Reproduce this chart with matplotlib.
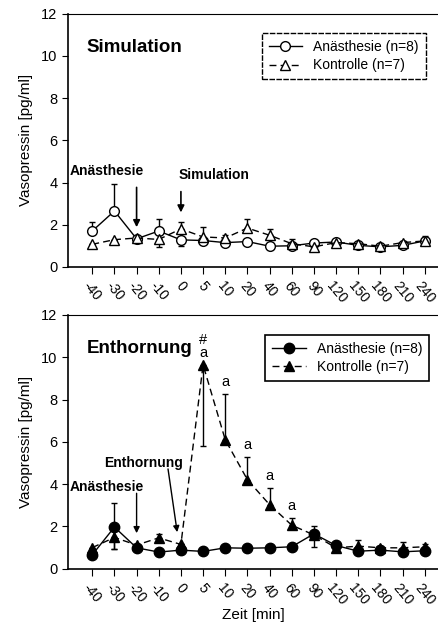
import numpy as np
import matplotlib.pyplot as plt

plt.rcParams['font.family'] = ['Liberation Sans', 'DejaVu Sans']

zeit = ['-40', '-30', '-20', '-10', '0', '5', '10', '20', '40', '60',
        '90', '120', '150', '180', '210', '240']

# Simulation
sim_an = [1.70, 2.65, 1.33, 1.70, 1.28, 1.25, 1.15, 1.20, 0.98, 1.00,
          1.13, 1.18, 1.02, 0.95, 1.02, 1.23]
sim_an_lo = [0, 0, 0.18, 0, 0.28, 0.10, 0.10, 0, 0, 0.08, 0.10, 0, 0.05, 0, 0, 0]
sim_an_hi = [0.42, 1.28, 0.15, 0.58, 0, 0.10, 0, 0, 0, 0, 0, 0.08, 0, 0, 0, 0]
sim_ko = [1.07, 1.29, 1.37, 1.30, 1.80, 1.42, 1.37, 1.84, 1.50, 1.10,
          0.95, 1.15, 1.10, 0.98, 1.15, 1.23]
sim_ko_lo = [0, 0, 0, 0.35, 0, 0, 0, 0, 0, 0, 0.05, 0, 0, 0, 0, 0]
sim_ko_hi = [0, 0, 0, 0, 0.35, 0.48, 0.13, 0.44, 0.28, 0.24, 0, 0.12, 0.08, 0, 0.10, 0.25]

# Enthornung
ent_an = [0.66, 1.97, 0.99, 0.79, 0.88, 0.82, 0.99, 0.97, 0.99, 1.04,
          1.65, 1.10, 0.83, 0.88, 0.80, 0.85]
ent_an_lo = [0, 1.05, 0, 0, 0, 0, 0, 0, 0, 0, 0.62, 0, 0, 0, 0, 0]
ent_an_hi = [0, 1.13, 0, 0, 0, 0, 0, 0, 0, 0, 0.38, 0, 0, 0, 0, 0]
ent_ko = [1.00, 1.48, 1.12, 1.46, 1.15, 9.64, 6.10, 4.21, 3.03, 2.06,
          1.60, 0.99, 1.07, 0.99, 0.99, 1.04]
ent_ko_lo = [0, 0.54, 0, 0, 0, 3.85, 0, 0, 0, 0, 0, 0.12, 0, 0, 0, 0]
ent_ko_hi = [0, 0, 0, 0.16, 0, 0, 2.15, 1.06, 0.77, 0.33, 0, 0, 0.28, 0.10, 0.28, 0.12]
sig_marks = {5: '#\na', 6: 'a', 7: 'a', 8: 'a', 9: 'a'}

x = np.arange(len(zeit))

fig = plt.figure(figsize=(4.38, 6.25), dpi=100)
ax1 = fig.add_axes([0.155, 0.573, 0.845, 0.405])
ax2 = fig.add_axes([0.155, 0.09, 0.845, 0.406])


def style(ax):
    ax.set_xlim(-1.1, 15.6)
    ax.set_ylim(0, 12)
    ax.set_yticks(range(0, 13, 2))
    ax.set_xticks(x)
    ax.set_xticklabels(zeit, rotation=-50, ha='center', va='top', fontsize=10)
    ax.tick_params(axis='x', direction='out', length=5, pad=4)
    ax.tick_params(axis='y', direction='out', length=4, labelsize=10.5)
    ax.spines['right'].set_visible(False)
    ax.spines['top'].set_linestyle((0, (6, 1)))
    ax.spines['top'].set_linewidth(0.8)
    ax.spines['left'].set_linewidth(1.2)
    ax.spines['bottom'].set_linewidth(1.2)
    ax.set_ylabel('Vasopressin [pg/ml]', fontsize=11, labelpad=6)


# top panel
a1 = ax1.errorbar(x, sim_an, yerr=[sim_an_lo, sim_an_hi], color='black', lw=1.0,
                  marker='o', ms=7, mfc='white', mec='black', capsize=2.5,
                  elinewidth=1, zorder=3)
k1 = ax1.errorbar(x, sim_ko, yerr=[sim_ko_lo, sim_ko_hi], color='black', lw=1.0,
                  ls=(0, (5, 3)), marker='^', ms=7, mfc='white', mec='black',
                  capsize=2.5, elinewidth=1, zorder=3)
style(ax1)
ax1.text(0.05, 0.85, 'Simulation', transform=ax1.transAxes, fontsize=13.5,
         fontweight='bold')
ax1.text(-1.0, 4.35, 'Anästhesie', fontsize=10, fontweight='bold')
ax1.annotate('', xy=(2, 1.75), xytext=(2, 3.9),
             arrowprops=dict(arrowstyle='-|>', color='black', lw=1.2, mutation_scale=10))
ax1.text(3.9, 4.15, 'Simulation', fontsize=10, fontweight='bold')
ax1.annotate('', xy=(4, 2.45), xytext=(4, 3.7),
             arrowprops=dict(arrowstyle='-|>', color='black', lw=1.2, mutation_scale=10))
leg = ax1.legend([a1[0], k1[0]], ['Anästhesie (n=8)', 'Kontrolle (n=7)'],
                 loc='upper right', bbox_to_anchor=(0.985, 0.95), fontsize=10,
                 fancybox=False, edgecolor='black', framealpha=1,
                 handlelength=2.4, borderpad=0.5, labelspacing=0.3)
leg.get_frame().set_linestyle((0, (4, 1)))

# bottom panel
a2 = ax2.errorbar(x, ent_an, yerr=[ent_an_lo, ent_an_hi], color='black', lw=1.0,
                  marker='o', ms=7.5, mfc='black', mec='black', capsize=2.5,
                  elinewidth=1, zorder=3)
k2 = ax2.errorbar(x, ent_ko, yerr=[ent_ko_lo, ent_ko_hi], color='black', lw=1.0,
                  ls=(0, (5, 3)), marker='^', ms=7.5, mfc='black', mec='black',
                  capsize=2.5, elinewidth=1, zorder=3)
style(ax2)
for i, s in sig_marks.items():
    top = ent_ko[i] + ent_ko_hi[i]
    ax2.text(i, top + 0.25, s, ha='center', va='bottom', fontsize=10.5,
             linespacing=0.9)
ax2.text(0.05, 0.85, 'Enthornung', transform=ax2.transAxes, fontsize=13.5,
         fontweight='bold')
ax2.text(-1.0, 3.85, 'Anästhesie', fontsize=10, fontweight='bold', va='center')
ax2.annotate('', xy=(2, 1.55), xytext=(2, 3.7),
             arrowprops=dict(arrowstyle='-|>', color='black', lw=1.0, mutation_scale=9))
ax2.text(0.55, 5.0, 'Enthornung', fontsize=10, fontweight='bold', va='center')
ax2.annotate('', xy=(3.85, 1.6), xytext=(3.4, 4.85),
             arrowprops=dict(arrowstyle='-|>', color='black', lw=1.0, mutation_scale=9))
ax2.set_xlabel('Zeit [min]', fontsize=11, labelpad=0)
leg = ax2.legend([a2[0], k2[0]], ['Anästhesie (n=8)', 'Kontrolle (n=7)'],
                 loc='upper right', bbox_to_anchor=(0.995, 0.95), fontsize=10,
                 fancybox=False, edgecolor='black', framealpha=1,
                 handlelength=2.4, borderpad=0.5, labelspacing=0.3)
leg.get_frame().set_linewidth(1.2)

fig.savefig('out.png', dpi=100)
